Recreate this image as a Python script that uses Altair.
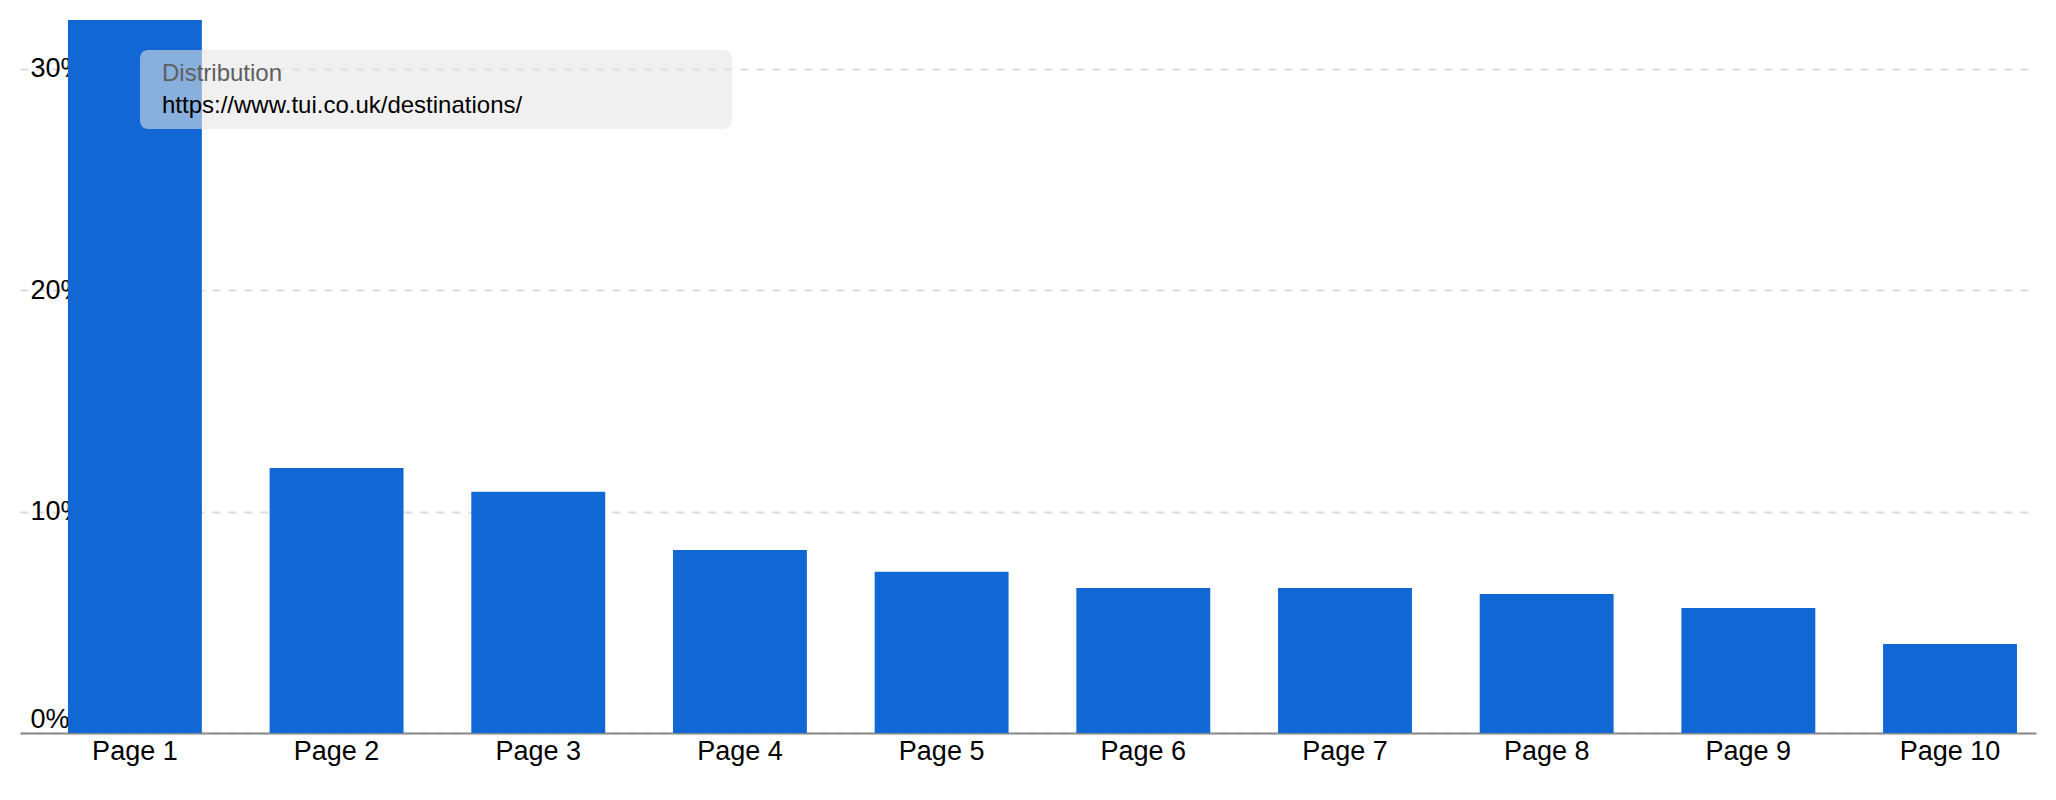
import altair as alt
import pandas as pd

pages = ["Page 1", "Page 2", "Page 3", "Page 4", "Page 5",
         "Page 6", "Page 7", "Page 8", "Page 9", "Page 10"]
share = [32.2, 11.97, 10.89, 8.27, 7.28, 6.55, 6.55, 6.28, 5.65, 4.02]
y_ticks = [0, 10, 20, 30]
tip_title = ["Distribution"]
tip_url = ["https://www.tui.co.uk/destinations/"]

FONT = "Liberation Sans, Arial, sans-serif"

df = pd.DataFrame({"page": pages, "share": share})
tip = pd.DataFrame({"title": tip_title, "url": tip_url})

bars = alt.Chart(df).mark_bar(color="#1168d4").encode(
    x=alt.X(
        "page:N",
        sort=pages,
        scale=alt.Scale(paddingInner=0.336, paddingOuter=0.166, align=0.716),
        axis=alt.Axis(
            title=None, labelAngle=0, labelFontSize=27, labelColor="#000000",
            labelFont=FONT, labelPadding=5.5, ticks=False, tickSize=0,
            domainColor="#8a8a8a", domainWidth=2, grid=False,
        ),
    ),
    y=alt.Y(
        "share:Q",
        scale=alt.Scale(domain=[0, 32.2], nice=False),
        axis=alt.Axis(
            title=None, values=y_ticks, labelExpr="datum.value + '%'",
            labelAlign="left", labelPadding=-10, labelFlush=True,
            labelFontSize=27, labelColor="#000000",
            labelFont=FONT, domain=False, ticks=False, tickSize=0,
            grid=True, gridDash=[8, 8], gridColor="#dcdcdc", gridWidth=2,
        ),
    ),
)

box = alt.Chart(tip).mark_rect(fill="#e5e5e5", opacity=0.57, cornerRadius=8).encode(
    x=alt.value(120), x2=alt.value(712), y=alt.value(30), y2=alt.value(109)
)

title_txt = alt.Chart(tip).mark_text(
    align="left", baseline="alphabetic", fontSize=24, color="#5f5f5f", font=FONT
).encode(x=alt.value(142), y=alt.value(61), text="title:N")

url_txt = alt.Chart(tip).mark_text(
    align="left", baseline="alphabetic", fontSize=24, color="#000000", font=FONT
).encode(x=alt.value(142), y=alt.value(93), text="url:N")

chart = alt.layer(bars, box, title_txt, url_txt).properties(
    width=2016, height=713,
    padding={"left": 12, "top": 12, "right": 8, "bottom": 10},
    background="white",
).configure_view(strokeWidth=0)

chart.save("out.html", embed_options={"renderer": "svg", "actions": False})
